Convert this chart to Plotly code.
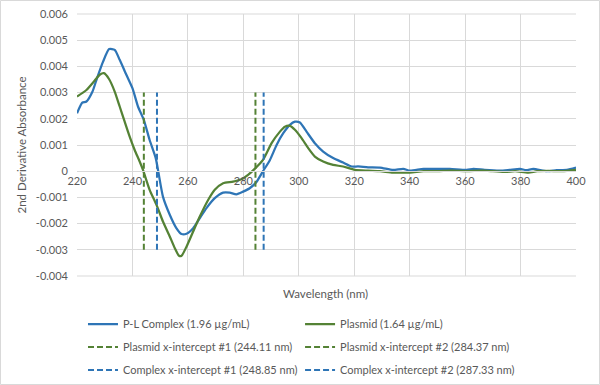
import plotly.graph_objects as go

# P-L Complex (blue) readings
complex_x = [220, 221.9, 223.4, 225.6, 227, 229.4, 231.6, 233.6, 235.4, 237.8, 240, 242, 244.1, 246.2,
             248.4, 251.0, 253.5, 255.9, 257.7, 259.5, 261.9, 264.3, 266.7, 269.7, 272.7, 275.1, 277.5,
             279.9, 282.3, 284.8, 287.1, 289.6, 292.0, 294.4, 296.8, 298.6, 300.4, 302.8, 305.8, 308.8,
             312.4, 316.0, 319.1, 321.4, 325, 329.3, 334, 337.7, 340.1, 345, 350, 354.5, 360.6, 363,
             367, 372.6, 376, 379.8, 382, 384.6, 389.5, 393, 396.7, 400]
complex_y = [0.00221, 0.00262, 0.00266, 0.00304, 0.00348, 0.00418, 0.00466, 0.00463, 0.00425, 0.00368,
             0.00317, 0.00247, 0.00196, 0.00119, 0.0005, -0.00097, -0.00167, -0.00218, -0.0024, -0.00239,
             -0.00218, -0.00179, -0.00141, -0.00103, -0.00082, -0.00082, -0.00088, -0.00078, -0.00065,
             -0.0004, 0.0, 0.00043, 0.001, 0.00145, 0.00177, 0.00189, 0.00186, 0.00151, 0.00107, 0.00075,
             0.0005, 0.00033, 0.00018, 0.00018, 0.00015, 0.00014, 0.00005, 0.00009, 0.00002, 0.00009,
             0.00009, 0.00009, 0.00005, 0.00009, 0.00005, 0.00002, 0.00005, 0.00009, 0.00004, 0.00009,
             0.0, 0.00004, 0.00005, 0.00014]

# Plasmid (green) readings
plasmid_x = [220, 223.4, 226.4, 228.2, 229.7, 231.6, 233.6, 235.4, 237.2, 239.0, 240.8, 242.6, 243.8,
             246.2, 248.7, 251.0, 253.5, 255.3, 256.8, 257.7, 259.5, 261.9, 264.3, 267.3, 269.7, 272.7,
             276.3, 279.3, 281.7, 284.2, 287.1, 290.2, 293.2, 295.0, 296.8, 298.6, 301.0, 303.4, 305.8,
             308.8, 312.4, 316.0, 320.2, 325, 329.3, 334, 340.1, 345, 350, 355, 360.6, 366, 370,
             374.6, 378, 382.8, 386, 390, 395, 400]
plasmid_y = [0.00285, 0.0031, 0.00346, 0.00368, 0.00374, 0.00351, 0.00304, 0.00247, 0.00189, 0.00132,
             0.00081, 0.00037, 0.00005, -0.00071, -0.00129, -0.00192, -0.0025, -0.00294, -0.00323,
             -0.00323, -0.00288, -0.0023, -0.00173, -0.0011, -0.00071, -0.00046, -0.0004, -0.00031,
             -0.00014, 0.0001, 0.00043, 0.00107, 0.00151, 0.0017, 0.00173, 0.00158, 0.00126, 0.00088,
             0.00056, 0.00037, 0.00024, 0.00018, 0.00005, 0.00002, 0.0, -0.00005, -0.00005, 0.0,
             0.0, 0.00002, 0.0, 0.00002, 0.0, -0.00003, 0.0, -0.00005, 0.0, 0.00001, 0.0, 0.00005]

# x-intercepts (nm) and the vertical extent of their marker lines
plasmid_int = [244.11, 284.37]
complex_int = [248.85, 287.33]
marker_span = [-0.003, 0.003]

x_ticks = [220, 240, 260, 280, 300, 320, 340, 360, 380, 400]
y_ticks = [-0.004, -0.003, -0.002, -0.001, 0, 0.001, 0.002, 0.003, 0.004, 0.005, 0.006]
y_labels = ["-0.004", "-0.003", "-0.002", "-0.001", "0", "0.001", "0.002", "0.003", "0.004", "0.005", "0.006"]

BLUE = "#2E75B6"
GREEN = "#548235"
TXT = "#595959"
GRID = "#D9D9D9"
FONT = "Lato"

fig = go.Figure()

fig.add_trace(go.Scatter(x=complex_x, y=complex_y, mode="lines", name="P-L Complex (1.96 µg/mL)",
                         line=dict(color=BLUE, width=2.25, shape="spline", smoothing=0.6),
                         legend="legend", legendgroup="a"))
fig.add_trace(go.Scatter(x=plasmid_x, y=plasmid_y, mode="lines", name="Plasmid (1.64 µg/mL)",
                         line=dict(color=GREEN, width=2.25, shape="spline", smoothing=0.6),
                         legend="legend2", legendgroup="b"))
fig.add_trace(go.Scatter(x=[plasmid_int[0]] * 2, y=marker_span, mode="lines",
                         name="Plasmid x-intercept #1 (244.11 nm)",
                         line=dict(color=GREEN, width=2, dash="6px,3px"), legend="legend", legendgroup="c"))
fig.add_trace(go.Scatter(x=[plasmid_int[1]] * 2, y=marker_span, mode="lines",
                         name="Plasmid x-intercept #2 (284.37 nm)",
                         line=dict(color=GREEN, width=2, dash="6px,3px"), legend="legend2", legendgroup="d"))
fig.add_trace(go.Scatter(x=[complex_int[0]] * 2, y=marker_span, mode="lines",
                         name="Complex x-intercept #1 (248.85 nm)",
                         line=dict(color=BLUE, width=2, dash="6px,3px"), legend="legend", legendgroup="e"))
fig.add_trace(go.Scatter(x=[complex_int[1]] * 2, y=marker_span, mode="lines",
                         name="Complex x-intercept #2 (287.33 nm)",
                         line=dict(color=BLUE, width=2, dash="6px,3px"), legend="legend2", legendgroup="f"))

L, R, T, B = 77, 24, 14, 109
W, H = 600, 385
pw, ph = W - L - R, H - T - B

legend_common = dict(font=dict(family=FONT, size=11, color=TXT), bgcolor="rgba(0,0,0,0)",
                     itemwidth=30, tracegroupgap=4, yanchor="top", xanchor="left",
                     orientation="v", traceorder="grouped")

fig.update_layout(
    width=W, height=H,
    margin=dict(l=L, r=R, t=T, b=B, autoexpand=False),
    paper_bgcolor="white", plot_bgcolor="white",
    font=dict(family=FONT, size=11, color=TXT),
    xaxis=dict(range=[220, 400], tickvals=x_ticks, showgrid=True, gridcolor=GRID, gridwidth=1,
               zeroline=False, showline=True, linecolor=GRID, linewidth=1, automargin=False,
               anchor="free", position=0.4, ticks="", tickfont=dict(size=11, color=TXT, family=FONT)),
    yaxis=dict(range=[-0.004, 0.006], tickvals=y_ticks, ticktext=y_labels, showgrid=True,
               gridcolor=GRID, gridwidth=1, zeroline=False, showline=False, ticks="", automargin=False,
               ticklabelstandoff=8, tickfont=dict(size=11, color=TXT, family=FONT),
               title=dict(text="2nd Derivative Absorbance", font=dict(size=11.5, color=TXT, family=FONT),
                          standoff=6)),
    legend=dict(x=0.012, y=-0.128, **legend_common),
    legend2=dict(x=0.447, y=-0.128, **legend_common),
    annotations=[dict(text="Wavelength (nm)", xref="paper", yref="paper", x=0.498, y=-0.065,
                      xanchor="center", yanchor="middle", showarrow=False,
                      font=dict(size=11.5, color=TXT, family=FONT))],
    shapes=[dict(type="rect", xref="paper", yref="paper", x0=-L / pw + 0.5 / pw, x1=1 + (R - 0.5) / pw,
                 y0=-(B - 0.5) / ph, y1=1 + (T - 0.5) / ph, line=dict(color=GRID, width=1), layer="below"),
            dict(type="line", xref="paper", yref="paper", x0=0, x1=1, y0=1, y1=1,
                 line=dict(color=GRID, width=1), layer="below"),
            dict(type="line", xref="paper", yref="paper", x0=0, x1=1, y0=0, y1=0,
                 line=dict(color=GRID, width=1), layer="below")],
)

fig.write_html("out.html", post_script="document.body.style.margin='0';",
               config={"displayModeBar": False})
